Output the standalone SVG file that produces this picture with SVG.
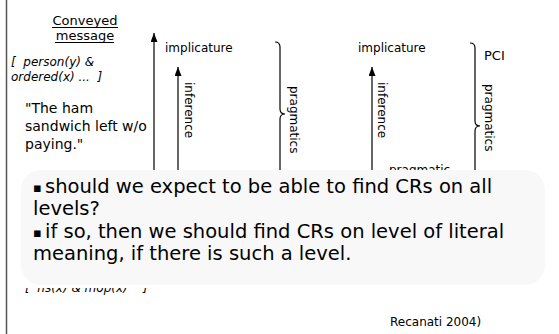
<svg xmlns="http://www.w3.org/2000/svg" width="559" height="334" viewBox="0 0 559 334">
<style>
text{font-family:"DejaVu Sans","Liberation Sans",sans-serif;fill:#000}
.s12{font-size:12px}
.s13{font-size:13px}
.s14{font-size:14px}
.it{font-style:italic;font-size:12px}
.big{font-size:19.5px}
.bul{font-size:13px}
.ln{stroke:#000;stroke-width:1.2;fill:none}
.ul{stroke:#000;stroke-width:1}
</style>
<defs>
<marker id="ah" markerUnits="userSpaceOnUse" markerWidth="9" markerHeight="7" refX="9" refY="3.5" orient="auto"><path d="M0,0 L9,3.5 L0,7 z" fill="#000"/></marker>
<clipPath id="cl"><rect x="0" y="288" width="220" height="20"/></clipPath>
<clipPath id="cp"><rect x="380" y="150" width="80" height="20"/></clipPath>
</defs>
<rect width="559" height="334" fill="#fff"/>
<line x1="6.5" y1="0" x2="6.5" y2="334" stroke="#555" stroke-width="1.5"/>

<g id="title">
<text class="s13" x="85" y="25" text-anchor="middle">Conveyed</text>
<line class="ul" x1="52" y1="27.5" x2="118" y2="27.5"/>
<text class="s13" x="85" y="40" text-anchor="middle">message</text>
<line class="ul" x1="55" y1="42.5" x2="114" y2="42.5"/>
</g>
<g id="logical-form">
<text class="it" x="11" y="66" xml:space="preserve">[  person(y) &amp;</text>
<text class="it" x="11" y="81" xml:space="preserve">ordered(x) ...  ]</text>
</g>
<g id="utterance">
<text class="s14" x="25" y="113">"The ham</text>
<text class="s14" x="25" y="131">sandwich left w/o</text>
<text class="s14" x="25" y="149">paying."</text>
</g>
<g id="literal-form">
<text class="it" x="25" y="292" xml:space="preserve" clip-path="url(#cl)">[  hs(x) &amp; mop(x)    ]</text>
</g>
<g id="implicature-1">
<text class="s12" x="165" y="52">implicature</text>
</g>
<g id="implicature-2">
<text class="s12" x="358" y="52">implicature</text>
</g>
<g id="pci">
<text class="s13" x="484" y="60">PCI</text>
</g>
<g id="pragmatic-low">
<text class="s12" x="389" y="174" clip-path="url(#cp)">pragmatic</text>
</g>

<g id="connectors">
<line class="ln" x1="154" y1="200" x2="154" y2="33" marker-end="url(#ah)"/>
<line class="ln" x1="178" y1="200" x2="178" y2="67" marker-end="url(#ah)"/>
<line class="ln" x1="372" y1="200" x2="372" y2="67" marker-end="url(#ah)"/>
<path class="ln" d="M275,42 Q280,42 280,47 L280,109 Q280,114 285,114 Q280,114 280,119 L280,181 Q280,186 275,186"/>
<path class="ln" d="M470,43 Q475,43 475,48 L475,121 Q475,126 480,126 Q475,126 475,131 L475,204 Q475,209 470,209"/>
</g>
<g id="labels">
<text class="s12" transform="translate(185,82) rotate(90)">inference</text>
<text class="s12" transform="translate(290,86) rotate(90)">pragmatics</text>
<text class="s12" transform="translate(378,82) rotate(90)">inference</text>
<text class="s12" transform="translate(485,84) rotate(90)">pragmatics</text>
</g>

<g id="question-box">
<rect x="21" y="170" width="524" height="115" rx="20" ry="20" fill="#f8f8f8"/>
<text class="big" y="193"><tspan class="bul" x="33" dy="-1">▪</tspan><tspan x="45" dy="1">should we expect to be able to find CRs on all</tspan></text>
<text class="big" x="33" y="215">levels?</text>
<text class="big" y="238"><tspan class="bul" x="33" dy="-1">▪</tspan><tspan x="45" dy="1">if so, then we should find CRs on level of literal</tspan></text>
<text class="big" x="33" y="260">meaning, if there is such a level.</text>
</g>
<g id="citation">
<text class="s12" x="390" y="326">Recanati 2004)</text>
</g>
</svg>
